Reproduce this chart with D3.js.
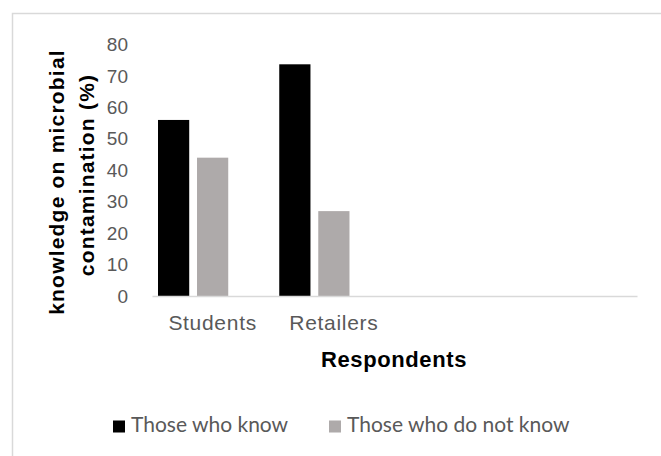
<!DOCTYPE html>
<html>
<head>
<meta charset="utf-8">
<script src="https://cdn.jsdelivr.net/npm/d3@7"></script>
<style>
  body { margin: 0; background: #fff; }
  text { font-family: "Liberation Sans", Arial, sans-serif; }
</style>
</head>
<body>
<script>
// data
const categories = ['Students', 'Retailers'];
const emptySlots = ['_c3', '_c4'];
const seriesNames = ['Those who know', 'Those who do not know'];
const knowValues = [56, 73.7];
const notKnowValues = [44, 27];
const yTicks = [0, 10, 20, 30, 40, 50, 60, 70, 80];
const colors = ['#000000', '#aeaaaa'];

const width = 661;
const height = 456;

const svg = d3.select('body').append('svg')
  .attr('width', width)
  .attr('height', height);

// chart frame
svg.append('rect')
  .attr('x', 12.5).attr('y', 13.5)
  .attr('width', 700).attr('height', 500)
  .attr('fill', 'none')
  .attr('stroke', '#d9d9d9')
  .attr('stroke-width', 1.5);

const x0 = d3.scaleBand()
  .domain(categories.concat(emptySlots))
  .range([152, 637]);

// three slots per group (third one unused in the original)
const x1 = d3.scaleBand()
  .domain([0, 1, 2])
  .range([6, x0.bandwidth() - 6])
  .paddingInner(0.2);

const y = d3.scaleLinear().domain([0, 80]).range([296, 44.5]);

const rows = categories.map((c, i) => ({ cat: c, vals: [knowValues[i], notKnowValues[i]] }));

const groups = svg.selectAll('.grp')
  .data(rows)
  .enter().append('g')
  .attr('class', 'grp')
  .attr('transform', d => 'translate(' + x0(d.cat) + ',0)');

groups.selectAll('rect')
  .data(d => d.vals)
  .enter().append('rect')
  .attr('x', (d, i) => x1(i))
  .attr('width', x1.bandwidth())
  .attr('y', d => y(d))
  .attr('height', d => y(0) - y(d))
  .attr('fill', (d, i) => colors[i]);

// y axis (labels only)
const yAxis = svg.append('g')
  .attr('transform', 'translate(152,0)')
  .call(d3.axisLeft(y).tickValues(yTicks).tickSize(0).tickPadding(24));
yAxis.select('.domain').remove();
yAxis.selectAll('text')
  .attr('fill', '#595959')
  .style('font-size', '19px');

// x axis
const xAxis = svg.append('g')
  .attr('transform', 'translate(0,296)')
  .call(d3.axisBottom(x0).tickSize(0).tickPadding(19)
    .tickFormat(d => categories.includes(d) ? d : ''));
xAxis.select('.domain')
  .attr('stroke', '#d9d9d9')
  .attr('stroke-width', 1.5);
xAxis.selectAll('text')
  .attr('fill', '#595959')
  .style('font-size', '21px')
  .style('letter-spacing', '0.7px');

// axis titles
svg.append('text')
  .attr('x', 394).attr('y', 366.5)
  .attr('text-anchor', 'middle')
  .style('font-size', '22px')
  .style('font-weight', 'bold')
  .style('letter-spacing', '0.6px')
  .text('Respondents');

const yTitle = svg.append('text')
  .attr('transform', 'rotate(-90)')
  .attr('text-anchor', 'middle')
  .style('font-size', '21px')
  .style('font-weight', 'bold')
  .style('letter-spacing', '1.2px');
yTitle.append('tspan').attr('x', -182).attr('y', 64).text('knowledge on microbial');
yTitle.append('tspan').attr('x', -175).attr('y', 94).text('contamination (%)');

// legend
const legendX = [113, 329];
const legend = svg.selectAll('.leg')
  .data(seriesNames)
  .enter().append('g')
  .attr('class', 'leg')
  .attr('transform', (d, i) => 'translate(' + legendX[i] + ',0)');
legend.append('rect')
  .attr('x', 0).attr('y', 420.5)
  .attr('width', 12).attr('height', 12)
  .attr('fill', (d, i) => colors[i]);
legend.append('text')
  .attr('x', 18).attr('y', 432)
  .attr('fill', '#595959')
  .style('font-family', 'Lato, sans-serif')
  .style('font-size', '21px')
  .text(d => d);
</script>
</body>
</html>
